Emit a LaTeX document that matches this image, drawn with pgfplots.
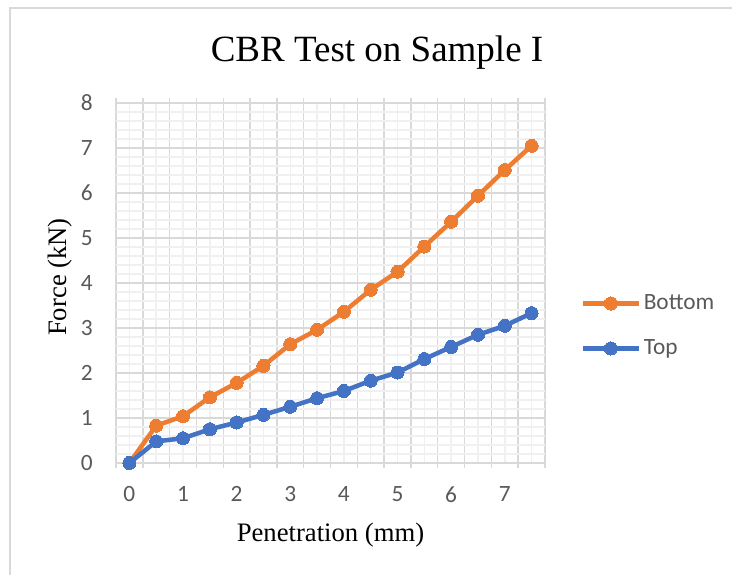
\documentclass[border=0pt]{standalone}
\usepackage{fontspec}
\setmainfont{Liberation Serif}
\newfontfamily\calibri{Carlito}
\usepackage{pgfplots}
\pgfplotsset{compat=1.18}

\definecolor{cbottom}{HTML}{ED7D31}
\definecolor{ctop}{HTML}{4472C4}
\definecolor{gmajor}{HTML}{D9D9D9}
\definecolor{gminor}{HTML}{F0F0F0}
\definecolor{ticktxt}{HTML}{595959}

% 1 px of the reference = 0.75pt
\begin{document}
\begin{tikzpicture}
\useasboundingbox (0pt,0pt) rectangle (549pt,-431.25pt);
\draw[gmajor, line width=1.5pt] (7.5pt,-431.25pt) -- (7.5pt,-6pt) -- (549pt,-6pt);
\node[font=\fontsize{27.75}{30}\selectfont] at (282.75pt,-39.75pt) {CBR Test on Sample I};
\node[font=\fontsize{20}{22}\selectfont, rotate=90] at (45pt,-207.75pt) {Force (kN)};
\begin{axis}[
  at={(87pt,-347.25pt)}, anchor=south west,
  width=321.75pt, height=270pt, scale only axis,
  xmin=-0.25, xmax=7.75, ymin=0, ymax=8,
  clip=false,
  axis line style={draw=none},
  xtick={-0.25,0.25,...,7.75}, xticklabels={},
  minor x tick num=1,
  ytick={0,1,...,8}, minor y tick num=4,
  extra x ticks={0,1,...,7},
  extra x tick style={grid=none, major tick length=0pt},
  grid=both,
  major grid style={gmajor, line width=1.1pt},
  minor grid style={gminor, line width=1.1pt},
  tick align=outside,
  major tick length=4pt, minor tick length=0pt,
  x tick style={gmajor, line width=1.1pt},
  y tick style={draw=none},
  /pgf/number format/assume math mode=true,
  ticklabel style={font=\calibri\fontsize{17.5}{19}\selectfont, text=ticktxt},
  xticklabel style={yshift=-14pt},
  yticklabel style={xshift=-10pt},
  xlabel={Penetration (mm)},
  xlabel style={font=\fontsize{20}{22}\selectfont, at={(axis description cs:0.5,-0.2)}, anchor=center},
  legend style={draw=none, fill=none, at={(axis description cs:1.073,0.3806)}, anchor=west,
    font=\calibri\fontsize{17.5}{19}\selectfont, text=ticktxt, row sep=17pt,
    /tikz/every odd column/.append style={column sep=0pt},
    nodes={inner xsep=2pt}},
  legend cell align=left,
  legend image code/.code={\draw[mark repeat=2,mark phase=2,#1] plot coordinates {(0pt,0pt) (21pt,0pt) (42pt,0pt)};},
]
\addplot[cbottom, line width=3.4pt, mark=*, mark size=4.9pt, mark options={solid, fill=cbottom, draw=cbottom, line width=0pt}]
  coordinates {(0,0) (0.5,0.83) (1,1.04) (1.5,1.46) (2,1.78) (2.5,2.16) (3,2.64) (3.5,2.96)
    (4,3.36) (4.5,3.85) (5,4.25) (5.5,4.81) (6,5.36) (6.5,5.94) (7,6.51) (7.5,7.05)};
\addlegendentry{Bottom}
\addplot[ctop, line width=3.4pt, mark=*, mark size=4.9pt, mark options={solid, fill=ctop, draw=ctop, line width=0pt}]
  coordinates {(0,0) (0.5,0.48) (1,0.55) (1.5,0.75) (2,0.90) (2.5,1.07) (3,1.25) (3.5,1.44)
    (4,1.60) (4.5,1.83) (5,2.01) (5.5,2.31) (6,2.58) (6.5,2.85) (7,3.05) (7.5,3.33)};
\addlegendentry{Top}
\end{axis}
\end{tikzpicture}
\end{document}
